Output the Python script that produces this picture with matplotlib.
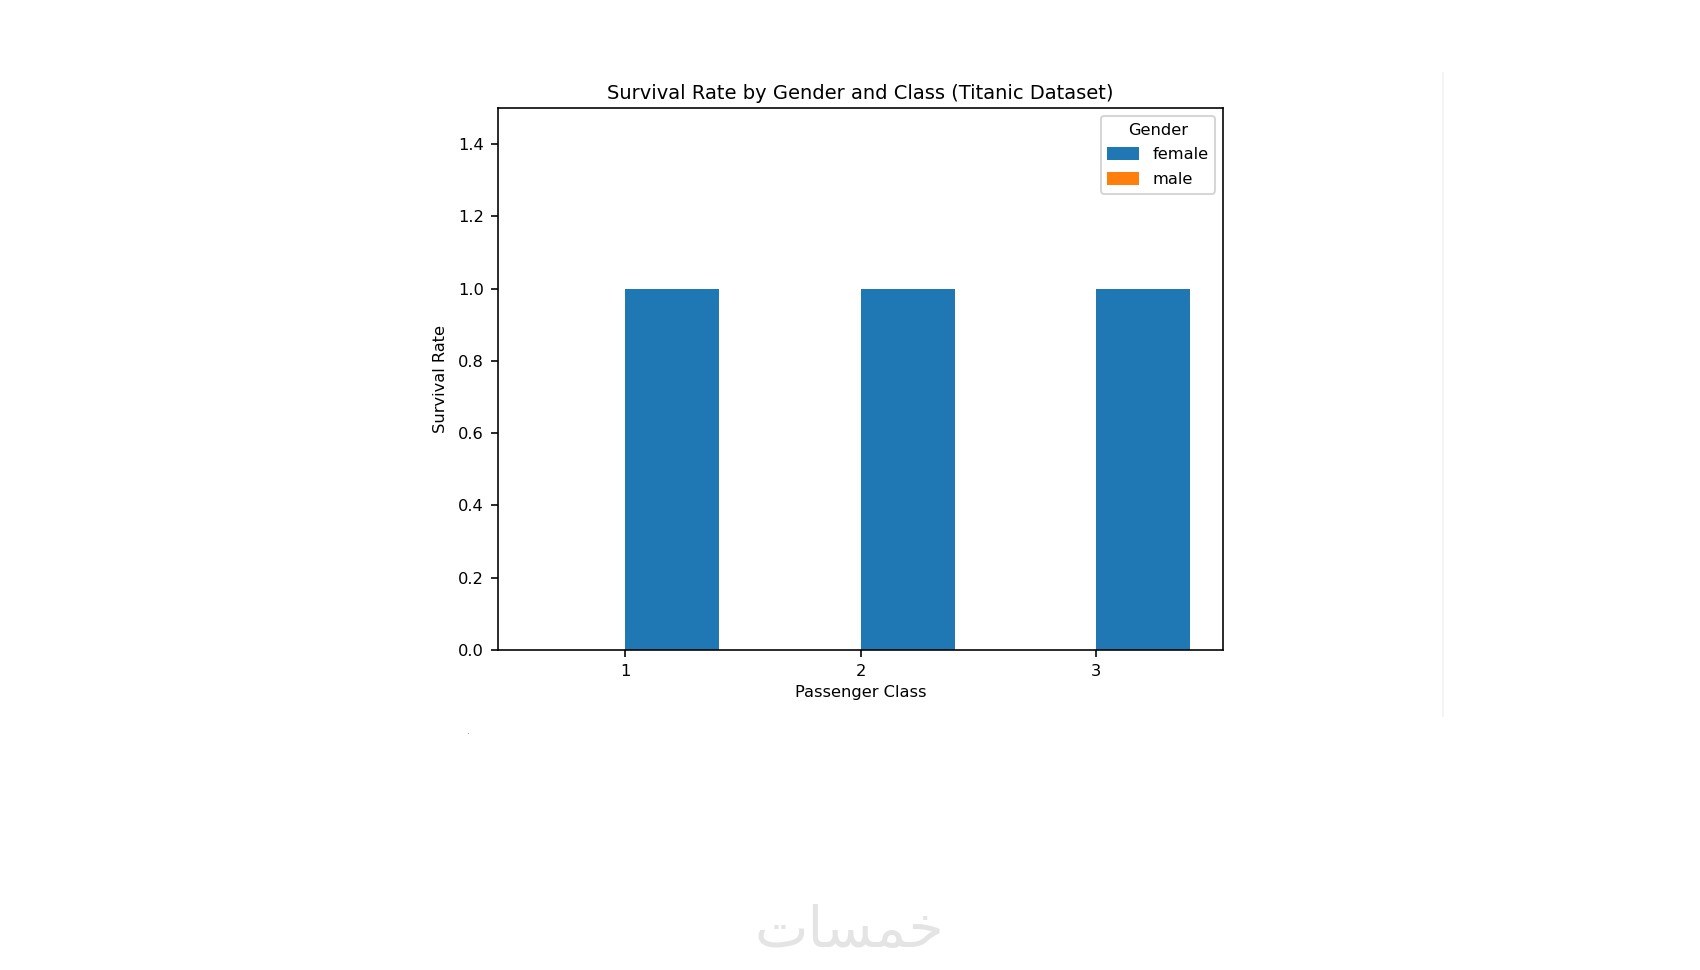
import matplotlib
matplotlib.use("Agg")
import matplotlib.pyplot as plt
import numpy as np

classes = [1, 2, 3]
genders = ["female", "male"]
female_rate = [1.0, 1.0, 1.0]
male_rate = [0.0, 0.0, 0.0]
yticks = [0.0, 0.2, 0.4, 0.6, 0.8, 1.0, 1.2, 1.4]

plt.rcParams["font.size"] = 8

DPI = 146
fig = plt.figure(figsize=(1700 / DPI, 970 / DPI), dpi=DPI)
ax = fig.add_axes([0.293, 0.3299, 0.4265, 0.5588])

x = np.array(classes, dtype=float)
w = 0.4
ax.bar(x + w / 2, female_rate, w, color="#1f77b4", label=genders[0])
ax.bar(x - w / 2, male_rate, w, color="#ff7f0e", label=genders[1])

ax.set_xticks(classes)
ax.set_xticklabels([str(c) for c in classes])
ax.set_yticks(yticks)
ax.set_ylim(0, 1.5)
ax.set_xlabel("Passenger Class", labelpad=3)
ax.set_ylabel("Survival Rate", labelpad=5)
ax.set_title("Survival Rate by Gender and Class (Titanic Dataset)", fontsize=9.6, pad=4.5)
ax.legend(title="Gender", loc="upper right", labelspacing=0.6, handleheight=0.8)

# faint screenshot border line on the right
fig.add_artist(plt.Line2D([1443 / 1700, 1443 / 1700], [1 - 73 / 970, 1 - 716 / 970],
                          color="#f2f2f2", lw=0.8, transform=fig.transFigure))
# tiny dot artifact
fig.text(467 / 1700, 1 - 731 / 970, ".", fontsize=4, color="#555555", ha="center", va="center")

# watermark (Arabic, presentation forms in visual order)
fig.text(849 / 1700, 1 - 932 / 970, "\uFE95\uFE8E\uFEB4\uFEE4\uFEA7", fontsize=28,
         color="#e4e4e4", ha="center", va="center", family="DejaVu Sans")

fig.savefig("out.png", dpi=DPI)
